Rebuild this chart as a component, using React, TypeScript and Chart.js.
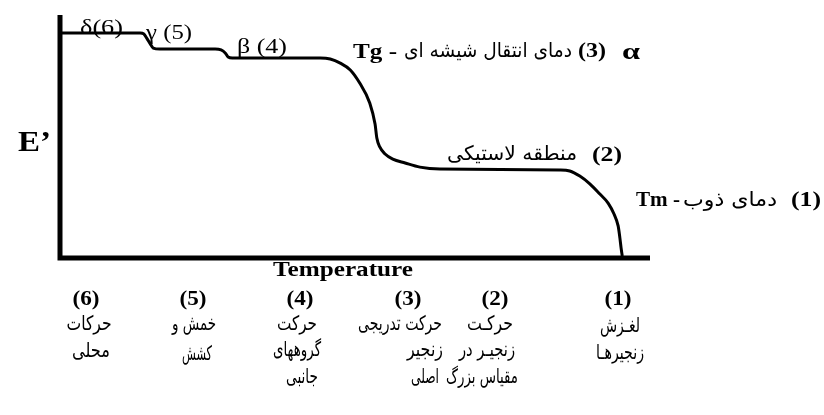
import React, { useEffect, useRef } from "react";
import { Chart, registerables } from "chart.js";

Chart.register(...registerables);

// Storage modulus E' against temperature (arbitrary units, 0–100 on both axes)
const temperature = [
  0.3, 13.6, 14.2, 14.7, 15.3, 15.8, 16.9, 26.3, 27.3, 28.0, 28.5, 29.2, 44.1,
  45.8, 47.5, 49.2, 50.8, 52.5, 53.4, 53.7, 54.2, 55.1, 56.4, 58.5, 61.0, 64.4,
  84.7, 86.4, 88.1, 89.8, 91.5, 92.9, 93.9, 94.6, 94.9, 95.1, 95.3,
];
const modulus = [
  92.6, 92.6, 92.2, 90.5, 88.1, 86.4, 86.0, 86.0, 85.6, 84.4, 82.7, 82.3, 82.3,
  81.9, 80.2, 77.4, 72.0, 63.8, 55.1, 49.4, 45.7, 42.8, 40.7, 39.1, 37.4, 36.6,
  36.2, 35.8, 33.7, 30.5, 26.3, 22.6, 18.1, 13.2, 8.2, 4.1, 0.8,
];

// Relaxation labels on the curve
const relaxationLabels = ["δ(6)", "γ (5)", "β (4)"];
const glassLabel = ["Tg -", "دمای انتقال شیشه ای", "(3)", "α"];
const rubberLabel = ["(2)", "منطقه لاستیکی"];
const meltLabel = ["Tm -", "دمای ذوب", "(1)"];
const axisLabels = ["E’", "Temperature"];

// Molecular motions listed under the axis
const regionNumbers = ["(6)", "(5)", "(4)", "(3)", "(2)", "(1)"];
const regionMotions = [
  ["حرکات", "محلی"],
  ["خمش و", "کشش"],
  ["حرکت", "گروههای", "جانبی"],
  ["حرکت تدریجی", "زنجیر", "اصلی"],
  ["حرکـت", "زنجیـر در", "مقیاس بزرگ"],
  ["لغـزش", "زنجیرهـا"],
];

const SERIF = "'Liberation Serif', 'DejaVu Serif', serif";
const PERSIAN = "'DejaVu Sans', sans-serif";

type Align = "left" | "center" | "right";

// Draws text squeezed or stretched horizontally to a given width
function fitText(
  ctx: CanvasRenderingContext2D,
  text: string,
  x: number,
  y: number,
  font: string,
  width: number,
  align: Align,
  rtl = false
) {
  ctx.save();
  ctx.font = font;
  ctx.direction = rtl ? "rtl" : "ltr";
  ctx.textAlign = align;
  ctx.textBaseline = "middle";
  const w = ctx.measureText(text).width;
  const s = width > 0 && w > 0 ? width / w : 1;
  ctx.translate(x, y);
  ctx.scale(s, 1);
  ctx.fillStyle = "#000";
  ctx.fillText(text, 0, 0);
  ctx.restore();
}

// Layout of the text blocks (canvas pixels)
const relaxationPos = [
  { x: 80, y: 29, w: 43 },
  { x: 146, y: 34, w: 46 },
  { x: 237, y: 48, w: 50 },
];
const numberCenters = [86, 193, 300, 408, 495, 618];
const motionPos = [
  [ { x: 89, y: 325, w: 45 }, { x: 91, y: 352, w: 38 } ],
  [ { x: 194, y: 325, w: 44 }, { x: 197, y: 355, w: 30 } ],
  [ { x: 297, y: 325, w: 40 }, { x: 297, y: 351, w: 48 }, { x: 302, y: 378, w: 32 } ],
  [ { x: 400, y: 325, w: 84 }, { x: 425, y: 351, w: 36 }, { x: 425, y: 378, w: 28 } ],
  [ { x: 490, y: 325, w: 46 }, { x: 487, y: 351, w: 56 }, { x: 482, y: 378, w: 72 } ],
  [ { x: 620, y: 327, w: 40 }, { x: 620, y: 354, w: 48 } ],
];

const annotations = {
  id: "annotations",
  afterDraw(chart: Chart) {
    const { ctx, chartArea } = chart;
    const { left, right, top, bottom } = chartArea;

    // Heavy axis lines
    ctx.save();
    ctx.strokeStyle = "#000";
    ctx.lineWidth = 5;
    ctx.lineCap = "butt";
    ctx.beginPath();
    ctx.moveTo(left, top);
    ctx.lineTo(left, bottom + 2.5);
    ctx.moveTo(left - 2.5, bottom);
    ctx.lineTo(right, bottom);
    ctx.stroke();
    ctx.restore();

    relaxationLabels.forEach((t, i) => {
      const p = relaxationPos[i];
      fitText(ctx, t, p.x, p.y, `20px ${SERIF}`, p.w, "left");
    });

    fitText(ctx, glassLabel[0], 353, 52, `bold 22px ${SERIF}`, 44, "left");
    fitText(ctx, glassLabel[1], 572, 52, `20px ${PERSIAN}`, 168, "right", true);
    fitText(ctx, glassLabel[2], 592, 52, `bold 21px ${SERIF}`, 28, "center");
    fitText(ctx, glassLabel[3], 631, 53, `bold 23px ${SERIF}`, 18, "center");

    fitText(ctx, rubberLabel[0], 607, 156, `bold 21px ${SERIF}`, 30, "center");
    fitText(ctx, rubberLabel[1], 577, 155, `20px ${PERSIAN}`, 130, "right", true);

    fitText(ctx, meltLabel[0], 636, 201, `bold 21px ${SERIF}`, 44, "left");
    fitText(ctx, meltLabel[1], 777, 201, `20px ${PERSIAN}`, 94, "right", true);
    fitText(ctx, meltLabel[2], 806, 201, `bold 21px ${SERIF}`, 30, "center");

    fitText(ctx, axisLabels[0], 18, 143, `bold 30px ${SERIF}`, 33, "left");
    fitText(ctx, axisLabels[1], 273, 271, `bold 21px ${SERIF}`, 140, "left");

    regionNumbers.forEach((t, i) => {
      fitText(ctx, t, numberCenters[i], 300, `bold 21px ${SERIF}`, 27, "center");
    });
    regionMotions.forEach((lines, i) => {
      lines.forEach((t, j) => {
        const p = motionPos[i][j];
        fitText(ctx, t, p.x, p.y, `20px ${PERSIAN}`, p.w, "center", true);
      });
    });
  },
};

export default function App() {
  const canvasRef = useRef<HTMLCanvasElement | null>(null);

  useEffect(() => {
    document.body.style.margin = "0";
    const canvas = canvasRef.current;
    if (!canvas) return;
    const chart = new Chart(canvas, {
      type: "line",
      data: {
        datasets: [
          {
            data: temperature.map((t, i) => ({ x: t, y: modulus[i] })),
            borderColor: "#000",
            borderWidth: 3,
            pointRadius: 0,
            cubicInterpolationMode: "monotone",
            fill: false,
          },
        ],
      },
      options: {
        responsive: false,
        animation: false,
        events: [],
        layout: { padding: { left: 60, top: 15, right: 174, bottom: 157 } },
        scales: {
          x: { type: "linear", min: 0, max: 100, display: false },
          y: { type: "linear", min: 0, max: 100, display: false },
        },
        plugins: {
          legend: { display: false },
          tooltip: { enabled: false },
        },
      },
      plugins: [annotations],
    });
    return () => chart.destroy();
  }, []);

  return (
    <div style={{ position: "fixed", left: 0, top: 0, width: 824, height: 415, background: "#fff" }}>
      <canvas ref={canvasRef} width={824} height={415} />
    </div>
  );
}
